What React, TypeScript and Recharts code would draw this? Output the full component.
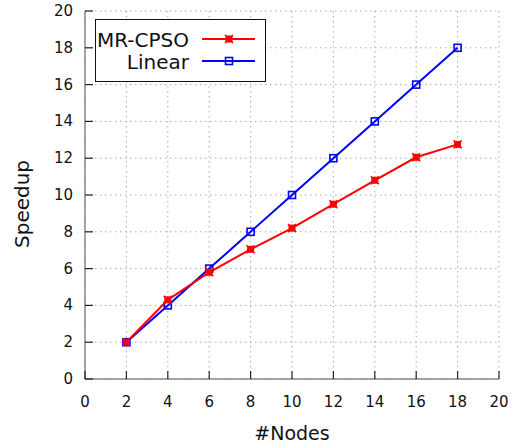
import { CartesianGrid, Legend, Line, LineChart, XAxis, YAxis } from "recharts";

const nodes = [2, 4, 6, 8, 10, 12, 14, 16, 18];
const mrCpso = [2.0, 4.3, 5.8, 7.05, 8.2, 9.5, 10.8, 12.05, 12.75];
const linear = [2, 4, 6, 8, 10, 12, 14, 16, 18];
const xTicks = [0, 2, 4, 6, 8, 10, 12, 14, 16, 18, 20];
const yTicks = [0, 2, 4, 6, 8, 10, 12, 14, 16, 18, 20];

const data = nodes.map((n, i) => ({ n, mr: mrCpso[i], lin: linear[i] }));

const FONT = "'DejaVu Sans', sans-serif";
const TICK_LEN = 8;

const RedDot = (p: any) => {
  const { cx, cy } = p;
  if (cx == null || cy == null) return null;
  return (
    <g>
      <rect x={cx - 3.5} y={cy - 3.5} width={7} height={7} fill="#ff0000" />
      <path
        d={`M${cx - 4},${cy - 4}L${cx + 4},${cy + 4}M${cx + 4},${cy - 4}L${cx - 4},${cy + 4}`}
        stroke="#ff0000"
        strokeWidth={1.5}
      />
    </g>
  );
};

const BlueDot = (p: any) => {
  const { cx, cy } = p;
  if (cx == null || cy == null) return null;
  return (
    <rect
      x={cx - 3.5}
      y={cy - 3.5}
      width={7}
      height={7}
      fill="none"
      stroke="#0000ff"
      strokeWidth={1.6}
    />
  );
};

const BottomTick = (p: any) => (
  <g>
    <line x1={p.x} y1={p.y} x2={p.x} y2={p.y - TICK_LEN} stroke="#222" strokeWidth={1.2} />
    <text x={p.x} y={p.y + 28} textAnchor="middle" fontSize={15} fontFamily={FONT} fill="#111">
      {p.payload.value}
    </text>
  </g>
);

const TopTick = (p: any) => (
  <line x1={p.x} y1={p.y} x2={p.x} y2={p.y + TICK_LEN} stroke="#222" strokeWidth={1.2} />
);

const LeftTick = (p: any) => (
  <g>
    <line x1={p.x} y1={p.y} x2={p.x + TICK_LEN} y2={p.y} stroke="#222" strokeWidth={1.2} />
    <text x={p.x - 12} y={p.y + 5} textAnchor="end" fontSize={15} fontFamily={FONT} fill="#111">
      {p.payload.value}
    </text>
  </g>
);

const RightTick = (p: any) => (
  <line x1={p.x} y1={p.y} x2={p.x - TICK_LEN} y2={p.y} stroke="#222" strokeWidth={1.2} />
);

const LegendBox = () => (
  <svg width={171} height={63}>
    <rect x={0.5} y={0.5} width={170} height={62} fill="#fff" stroke="#111" strokeWidth={1} />
    <text x={94} y={28} textAnchor="end" fontSize={20} fontFamily={FONT} fill="#111">
      MR-CPSO
    </text>
    <line x1={107} y1={20} x2={160} y2={20} stroke="#ff0000" strokeWidth={2} />
    <RedDot cx={134} cy={20} />
    <text x={94} y={50} textAnchor="end" fontSize={20} fontFamily={FONT} fill="#111">
      Linear
    </text>
    <line x1={107} y1={42} x2={160} y2={42} stroke="#0000ff" strokeWidth={2} />
    <BlueDot cx={134} cy={42} />
  </svg>
);

export default function App() {
  return (
    <div style={{ position: "absolute", left: 0, top: 0, width: 521, height: 448, background: "#fff" }}>
      <LineChart
        width={521}
        height={448}
        data={data}
        margin={{ top: 11, right: 22, bottom: 39, left: 25 }}
      >
        <CartesianGrid stroke="#aaa" strokeDasharray="1.5 3.5" strokeWidth={1} />
        <XAxis
          dataKey="n"
          type="number"
          domain={[0, 20]}
          ticks={xTicks}
          height={30}
          tickSize={0}
          tickMargin={0}
          tick={<BottomTick />}
          axisLine={{ stroke: "#888", strokeWidth: 1.5 }}
          interval={0}
          label={{
            value: "#Nodes",
            position: "insideBottom",
            offset: -31,
            fontSize: 19,
            fontFamily: FONT,
            fill: "#111",
          }}
        />
        <XAxis
          xAxisId="top"
          orientation="top"
          dataKey="n"
          type="number"
          domain={[0, 20]}
          ticks={xTicks}
          height={0}
          tickSize={0}
          tickMargin={0}
          tick={<TopTick />}
          axisLine={{ stroke: "#888", strokeWidth: 1.5 }}
          interval={0}
        />
        <YAxis
          type="number"
          domain={[0, 20]}
          ticks={yTicks}
          width={60}
          tickSize={0}
          tickMargin={0}
          tick={<LeftTick />}
          axisLine={{ stroke: "#888", strokeWidth: 1.5 }}
          interval={0}
          label={{
            value: "Speedup",
            angle: -90,
            position: "insideLeft",
            offset: -3,
            dy: 53,
            fontSize: 20,
            fontFamily: FONT,
            fill: "#111",
          }}
        />
        <YAxis
          yAxisId="right"
          orientation="right"
          type="number"
          domain={[0, 20]}
          ticks={yTicks}
          width={0}
          tickSize={0}
          tickMargin={0}
          tick={<RightTick />}
          axisLine={{ stroke: "#888", strokeWidth: 1.5 }}
          interval={0}
        />
        <Legend
          verticalAlign="middle"
          align="center"
          layout="horizontal"
          content={<LegendBox />}
          wrapperStyle={{ top: 19, left: 95, width: 171, height: 63 }}
        />
        <Line
          dataKey="lin"
          stroke="#0000ff"
          strokeWidth={2}
          dot={<BlueDot />}
          activeDot={false}
          isAnimationActive={false}
        />
        <Line
          dataKey="mr"
          stroke="#ff0000"
          strokeWidth={2}
          dot={<RedDot />}
          activeDot={false}
          isAnimationActive={false}
        />
      </LineChart>
    </div>
  );
}
